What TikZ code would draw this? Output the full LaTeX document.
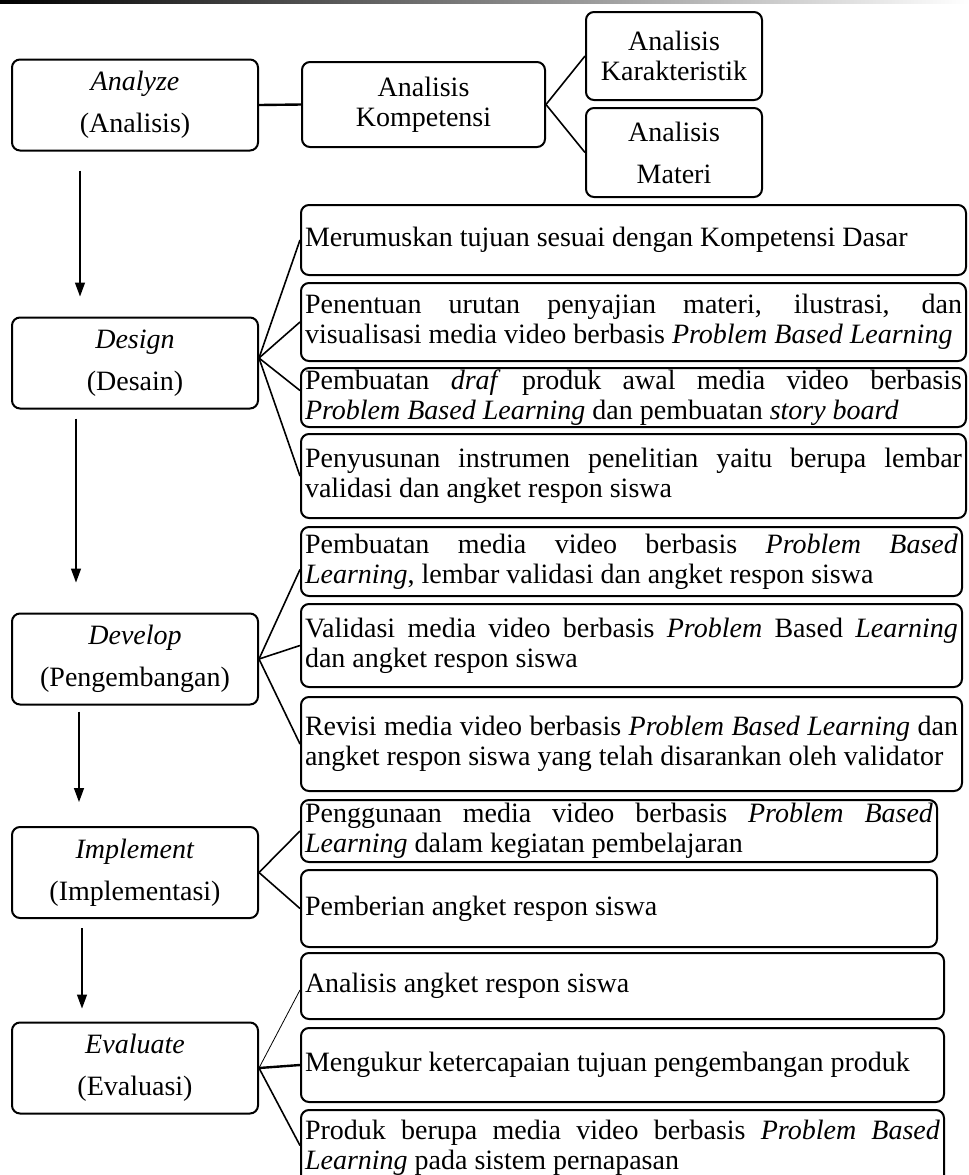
\documentclass[tikz,border=0pt]{standalone}
\usepackage{fontspec}
\setmainfont{Liberation Serif}
\usetikzlibrary{arrows.meta}
\newcommand\rfont{\fontsize{14pt}{14.8pt}\selectfont\hyphenpenalty=10000\exhyphenpenalty=10000\tolerance=9999}
\newcommand\lfont{\fontsize{14pt}{21pt}\selectfont}
\begin{document}
\begin{tikzpicture}[x=0.5pt,y=-0.5pt,
  lbox/.style={draw, line width=1pt, rounded corners=4pt, align=center, font=\lfont,
    minimum width=123pt, minimum height=45.5pt, inner sep=0pt},
  mbox/.style={draw, line width=1pt, rounded corners=4pt, align=center, inner sep=0pt},
  rbox/.style={draw, line width=1pt, rounded corners=4pt, align=justify, font=\rfont,
    inner xsep=2pt, inner ysep=0pt},
  bbox/.style={rbox, text width=328.5pt},
  dbox/.style={rbox, text width=326.5pt},
  ibox/.style={rbox, text width=314pt},
  ebox/.style={rbox, text width=317.5pt},
  con/.style={line width=0.8pt},
  conthick/.style={line width=1.2pt},
  conthin/.style={line width=0.4pt},
  arr/.style={line width=0.75pt, -{Triangle[length=7pt,width=5pt]}}
]
\useasboundingbox (0,0) rectangle (969,1175);
\fill[white] (0,0) rectangle (969,1175);
\begin{scope}
\clip (0,0) rectangle (969,1175);
\shade[left color=black, right color=white] (0,0) rectangle (969,3);

% left column
\node[lbox] (an) at (135,105) {\textit{Analyze}\\(Analisis)};
\node[lbox] (ds) at (135,363) {\textit{Design}\\(Desain)};
\node[lbox] (dv) at (135,659) {\textit{Develop}\\(Pengembangan)};
\node[lbox] (im) at (135,872.5) {\textit{Implement}\\(Implementasi)};
\node[lbox] (ev) at (135,1068) {\textit{Evaluate}\\(Evaluasi)};

% analysis sub-boxes
\node[mbox, minimum width=121.5pt, minimum height=42.5pt, font=\fontsize{14pt}{15pt}\selectfont] (ak) at (423.5,104.5) {Analisis\\Kompetensi};
\node[mbox, minimum width=88pt, minimum height=44pt, font=\fontsize{14pt}{15pt}\selectfont] (kar) at (674,56) {Analisis\\Karakteristik};
\node[mbox, minimum width=88pt, minimum height=44.5pt, font=\fontsize{14pt}{21pt}\selectfont] (mat) at (674,152.5) {Analisis\\Materi};

% design boxes
\node[bbox, minimum height=35pt] (b1) at (633.5,240) {Merumuskan tujuan sesuai dengan Kompetensi Dasar};
\node[bbox, minimum height=39pt] (b2) at (633.5,322) {Penentuan urutan penyajian materi, ilustrasi, dan\linebreak visualisasi media video berbasis \textit{Problem Based Learning}};
\node[bbox, minimum height=29.5pt] (b3) at (633.5,397.5) {Pembuatan \textit{draf} produk awal media video berbasis\linebreak \textit{Problem Based Learning} dan pembuatan \textit{story board}};
\node[bbox, minimum height=42pt] (b4) at (633.5,476) {Penyusunan instrumen penelitian yaitu berupa lembar\linebreak validasi dan angket respon siswa};

% develop boxes
\node[dbox, minimum height=34.5pt] (d1) at (631.5,561.5) {Pembuatan media video berbasis \textit{Problem Based}\linebreak \textit{Learning}, lembar validasi dan angket respon siswa};
\node[dbox, minimum height=41.5pt] (d2) at (631.5,645.5) {Validasi media video berbasis \textit{Problem} Based \textit{Learning}\linebreak dan angket respon siswa};
\node[dbox, minimum height=47pt] (d3) at (631.5,744) {Revisi media video berbasis \textit{Problem Based Learning} dan\linebreak angket respon siswa yang telah disarankan oleh validator};

% implement boxes
\node[ibox, minimum height=31pt] (i1) at (619,831) {Penggunaan media video berbasis \textit{Problem Based}\linebreak \textit{Learning} dalam kegiatan pembelajaran};
\node[ibox, minimum height=38.5pt] (i2) at (619,908.5) {Pemberian angket respon siswa};

% evaluate boxes
\node[ebox, minimum height=33pt] (e1) at (622.5,986) {Analisis angket respon siswa};
\node[ebox, minimum height=37pt] (e2) at (622.5,1065) {Mengukur ketercapaian tujuan pengembangan produk};
\node[ebox, minimum height=37.5pt] (e3) at (622.5,1147.5) {Produk berupa media video berbasis \textit{Problem Based}\linebreak \textit{Learning} pada sistem pernapasan};

% connectors
\draw[conthick] (an.east) -- (ak.west);
\draw[con] (ak.east) -- (kar.west);
\draw[con] (ak.east) -- (mat.west);

\draw[con] ([yshift=2.5pt]ds.east) -- (b1.west);
\draw[con] ([yshift=2.5pt]ds.east) -- (b2.west);
\draw[con] ([yshift=2.5pt]ds.east) -- ([yshift=3.5pt]b3.west);
\draw[con] ([yshift=2.5pt]ds.east) -- (b4.west);

\draw[con] (dv.east) -- ([yshift=-4pt]d1.west);
\draw[con] (dv.east) -- (d2.west);
\draw[con] (dv.east) -- (d3.west);

\draw[con] (im.east) -- (i1.west);
\draw[con] (im.east) -- (i2.west);

\draw[conthin] (ev.east) -- ([yshift=-2pt]e1.west);
\draw[conthick] (ev.east) -- (e2.west);
\draw[con] (ev.east) -- ([yshift=1pt]e3.west);

% arrows
\draw[arr, shorten <=9.5pt, shorten >=10pt] ([xshift=-27.5pt]an.south) -- ([xshift=-27.5pt]ds.north);
\draw[arr, shorten <=4.5pt, shorten >=15pt] ([xshift=-29.5pt]ds.south) -- ([xshift=-29.5pt]dv.north);
\draw[arr, shorten <=3pt, shorten >=12pt] ([xshift=-28pt]dv.south) -- ([xshift=-28pt]im.north);
\draw[arr, shorten <=4.5pt, shorten >=6.5pt] ([xshift=-26.5pt]im.south) -- ([xshift=-26.5pt]ev.north);
\end{scope}
\end{tikzpicture}
\end{document}
